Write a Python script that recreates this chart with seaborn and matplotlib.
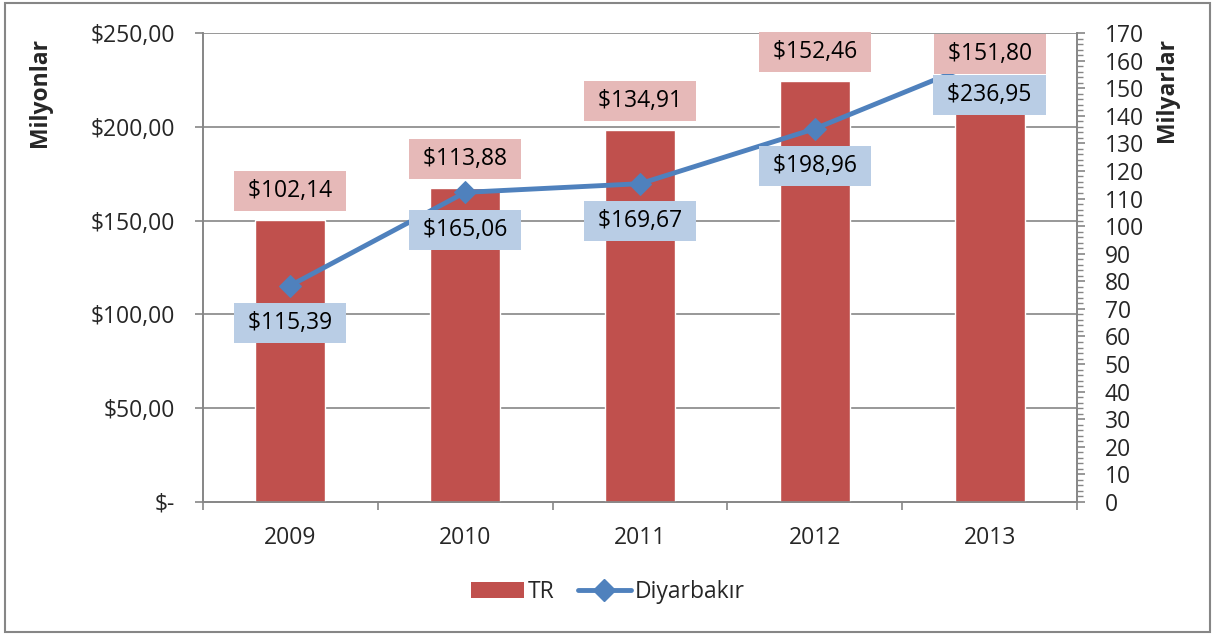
import matplotlib
matplotlib.use("Agg")
import matplotlib.pyplot as plt
import matplotlib.transforms as mtransforms
from matplotlib.patches import Rectangle, Patch
from matplotlib.lines import Line2D
import seaborn as sns
import numpy as np
import pandas as pd

years = ["2009", "2010", "2011", "2012", "2013"]
tr_values = [102.14, 113.88, 134.91, 152.46, 151.80]          # Milyarlar (right axis)
diyarbakir_values = [115.39, 165.06, 169.67, 198.96, 236.95]  # Milyonlar (left axis)
left_ticks = [0, 50, 100, 150, 200, 250]
right_ticks = list(range(0, 171, 10))

sns.set_theme(style="white")
plt.rcParams["font.family"] = ["Open Sans", "DejaVu Sans"]

FS = 16.5
BAR = "#C0504D"
LINE = "#4F81BD"
PINK = "#E6B9B8"
BLUE = "#B9CDE5"
GRID = "#868686"

fig = plt.figure(figsize=(12.16, 6.37), dpi=100)
ax1 = fig.add_axes([203/1216, 1-502/637, (1077-203)/1216, (502-33)/637])
ax2 = ax1.twinx()

df = pd.DataFrame({"year": years, "TR": tr_values, "Diyarbakir": diyarbakir_values})

# Bars on ax1 (right-side scale), drawn below the line axes
sns.barplot(data=df, x="year", y="TR", ax=ax1, color=BAR, width=0.4,
            saturation=1, zorder=3)
ax1.set_ylim(0, 170)
ax1.set_xlim(-0.5, 4.5)
ax1.yaxis.tick_right()
ax1.yaxis.set_label_position("right")
ax1.set_yticks(right_ticks)
ax1.set_yticks(np.arange(0, 171, 2), minor=True)
ax1.set_yticklabels([str(t) for t in right_ticks])
ax1.tick_params(axis="y", which="major", direction="out", length=6, width=1.2,
                color=GRID, labelsize=FS, pad=14, right=True, left=False)
ax1.tick_params(axis="y", which="minor", direction="out", length=4, width=1,
                color=GRID, right=True, left=False)
ax1.set_xlabel("")
ax1.set_ylabel("")

# x ticks at category boundaries, labels at centers
ax1.set_xticks(np.arange(-0.5, 5.0, 1.0))
ax1.set_xticklabels([""] * 6)
ax1.set_xticks(np.arange(5), minor=True)
ax1.set_xticklabels(years, minor=True)
ax1.tick_params(axis="x", which="major", direction="out", length=6, width=1.2,
                color=GRID, bottom=True)
ax1.tick_params(axis="x", which="minor", length=0, labelsize=FS, pad=17)

# line on ax2 (left-side scale)
sns.lineplot(data=df, x="year", y="Diyarbakir", ax=ax2, color=LINE, linewidth=3.5,
             marker="D", markersize=11, markeredgecolor=LINE, zorder=5)
ax2.set_ylim(0, 250)
ax2.set_xlim(-0.5, 4.5)
ax2.yaxis.tick_left()
ax2.yaxis.set_label_position("left")
ax2.set_yticks(left_ticks)
ax2.set_yticklabels(["$-" if t == 0 else f"${t},00" for t in left_ticks])
ax2.tick_params(axis="y", direction="out", length=6, width=1.2, color=GRID,
                labelsize=FS, pad=14, left=True, right=False)
ax2.set_xlabel("")
ax2.set_ylabel("")

# gridlines (left scale) drawn beneath bars
trans = mtransforms.blended_transform_factory(ax1.transAxes, ax2.transData)
for t in left_ticks[1:]:
    ax1.add_line(Line2D([0, 1], [t, t], transform=trans, color=GRID, lw=1.2, zorder=1))

for a in (ax1, ax2):
    for s in a.spines.values():
        s.set_visible(False)
    for side in ("left", "right", "bottom"):
        a.spines[side].set_visible(True)
        a.spines[side].set_color(GRID)
        a.spines[side].set_linewidth(1.2)

# data labels (drawn on the top axes so they cover the line)
for i, v in enumerate(tr_values):
    ax2.annotate(" " + f"${v:.2f}".replace(".", ",") + " ", xy=(i, v),
                 xycoords=ax1.transData, xytext=(0, 21),
                 textcoords="offset points", ha="center", va="center", fontsize=FS,
                 color="black", zorder=10,
                 bbox=dict(boxstyle="square,pad=0.35", fc=PINK, ec="none"))
for i, v in enumerate(diyarbakir_values):
    ax2.annotate(" " + f"${v:.2f}".replace(".", ",") + " ", xy=(i, v),
                 xytext=(0, -27),
                 textcoords="offset points", ha="center", va="center", fontsize=FS,
                 color="black", zorder=10,
                 bbox=dict(boxstyle="square,pad=0.35", fc=BLUE, ec="none"))

# axis titles
fig.text(40/1216, 1-38/637, "Milyonlar", rotation=90, ha="center", va="top",
         fontsize=FS, fontweight="bold")
fig.text(1167/1216, 1-38/637, "Milyarlar", rotation=90, ha="center", va="top",
         fontsize=FS, fontweight="bold")

# legend
handles = [Patch(facecolor=BAR, edgecolor="none", label="TR"),
           Line2D([0], [0], color=LINE, lw=3.5, marker="D", markersize=11, label="Diyarbakır")]
fig.legend(handles=handles, loc="center", bbox_to_anchor=(0.5, 1-592/637), ncol=2,
           frameon=False, fontsize=FS, handlelength=2.3, handletextpad=0.2,
           columnspacing=1.0)

# outer border
fig.patches.append(Rectangle((5/1216, 5/637), 1205/1216, 629/637, transform=fig.transFigure,
                             fill=False, edgecolor=GRID, lw=1.5))

fig.savefig("out.png", dpi=100)
